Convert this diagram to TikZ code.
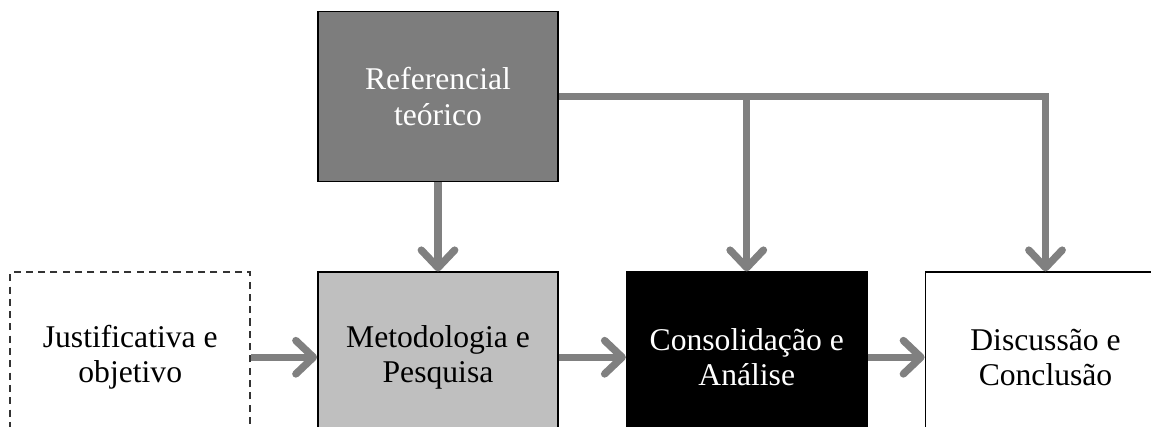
\documentclass[tikz,border=0pt]{standalone}
\usepackage{fontspec}
\setmainfont{Liberation Serif}
\usepackage{tikz}
\usetikzlibrary{positioning,arrows.meta}

\definecolor{linegray}{RGB}{128,128,128}
\definecolor{refgray}{RGB}{125,125,125}
\definecolor{metgray}{RGB}{191,191,191}

\begin{document}
\begin{tikzpicture}[
    box/.style = {draw, line width=1pt, minimum width=4.8cm, minimum height=3.4cm,
                  align=center, font=\fontsize{18}{20}\selectfont},
    flow/.style = {draw=linegray, line width=4.2pt,
                   -{Straight Barb[length=10pt,width=19pt,line cap=round,line join=round]}}
  ]
    \useasboundingbox (0,0) rectangle (23.02,8.54);
    \clip (0,0) rectangle (23.02,8.54);

    \node[box, fill=refgray, text=white] at (8.76,6.61) (ref) {Referencial\\ teórico};
    \node[box, fill=metgray, below = 1.78cm of ref] (met) {Metodologia e\\ Pesquisa};
    \node[box, draw=black!80, dash pattern=on 4pt off 3pt, left = 1.32cm of met] (just) {Justificativa e\\ objetivo};
    \node[box, fill=black, text=white, right = 1.34cm of met] (cons) {Consolidação e\\ Análise};
    \node[box, right = 1.14cm of cons] (disc) {Discussão e\\ Conclusão};

    \coordinate (split) at (cons.north |- ref.east);

    \draw[flow] (ref) -- (met);
    \draw[flow] (ref.east) -| (disc.north);
    \draw[flow] (split) -- (cons.north);
    \draw[flow] (just) -- (met);
    \draw[flow] (met) -- (cons);
    \draw[flow] (cons) -- (disc);
\end{tikzpicture}
\end{document}
